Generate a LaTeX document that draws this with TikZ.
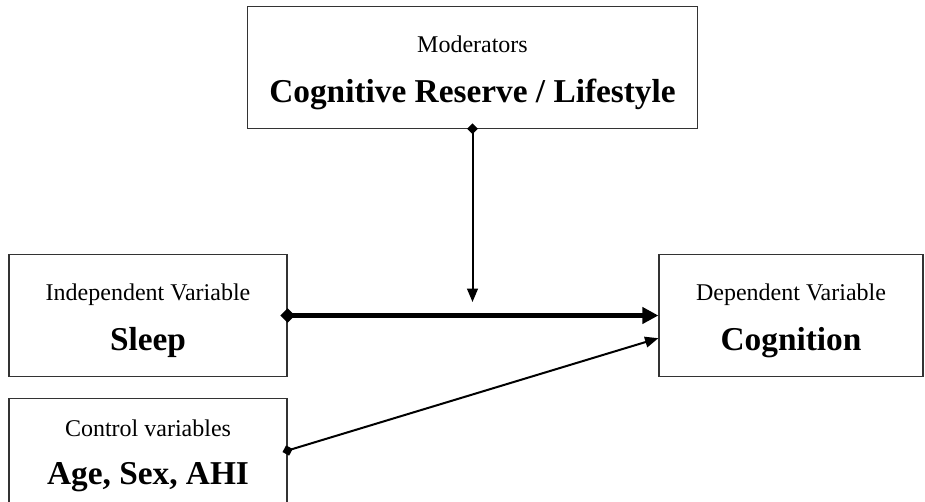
\documentclass[tikz,border=0pt]{standalone}
\usepackage{fontspec}
\setmainfont{Liberation Serif}
\usepackage{tikz}
\usetikzlibrary{arrows.meta}

\newcommand{\toprule}{\rule{0pt}{20.5pt}}
\newcommand{\bigword}[1]{{\fontsize{25}{30}\selectfont\bfseries #1}}

\begin{document}
\begin{tikzpicture}[x=0.75pt, y=-0.75pt,
    varbox/.style={draw=black!80, line width=0.9pt, align=center, inner sep=0pt,
      font=\fontsize{18}{22}\selectfont},
    link/.style={line width=1.5pt, shorten <=-4pt,
      {Diamond[length=8pt,width=8pt]}-{Triangle[length=10pt,width=8pt]}},
    mainlink/.style={line width=4pt, shorten <=-5.5pt,
      {Diamond[length=11pt,width=11pt]}-{Triangle[length=12pt,width=12pt]}}]

  \useasboundingbox (0,0) rectangle (925,501);
  \clip (0,0) rectangle (925,501);

  \node[varbox, minimum width=338pt, minimum height=91pt] (mod) at (472.5,67.5)
    {\toprule Moderators\\[16pt]\bigword{Cognitive Reserve / Lifestyle}};
  \node[varbox, minimum width=208.5pt, minimum height=92pt] (sleep) at (148,315.5)
    {\toprule Independent Variable\\[16pt]\bigword{Sleep}};
  \node[varbox, minimum width=198pt, minimum height=92pt] (cog) at (791,315.5)
    {\toprule Dependent Variable\\[16pt]\bigword{Cognition}};
  \node[varbox, minimum width=208.5pt, minimum height=78pt] (ctrl) at (148,450.5)
    {\toprule Control variables\\[14pt]\bigword{Age, Sex, AHI}};

  \coordinate (mid) at (472.5,302);

  \draw[mainlink] (sleep.east) -- (cog.west);
  \draw[link] (mod.south) -- (mid);
  \draw[link] (ctrl.east) -- ([yshift=-17pt]cog.west);

\end{tikzpicture}
\end{document}
